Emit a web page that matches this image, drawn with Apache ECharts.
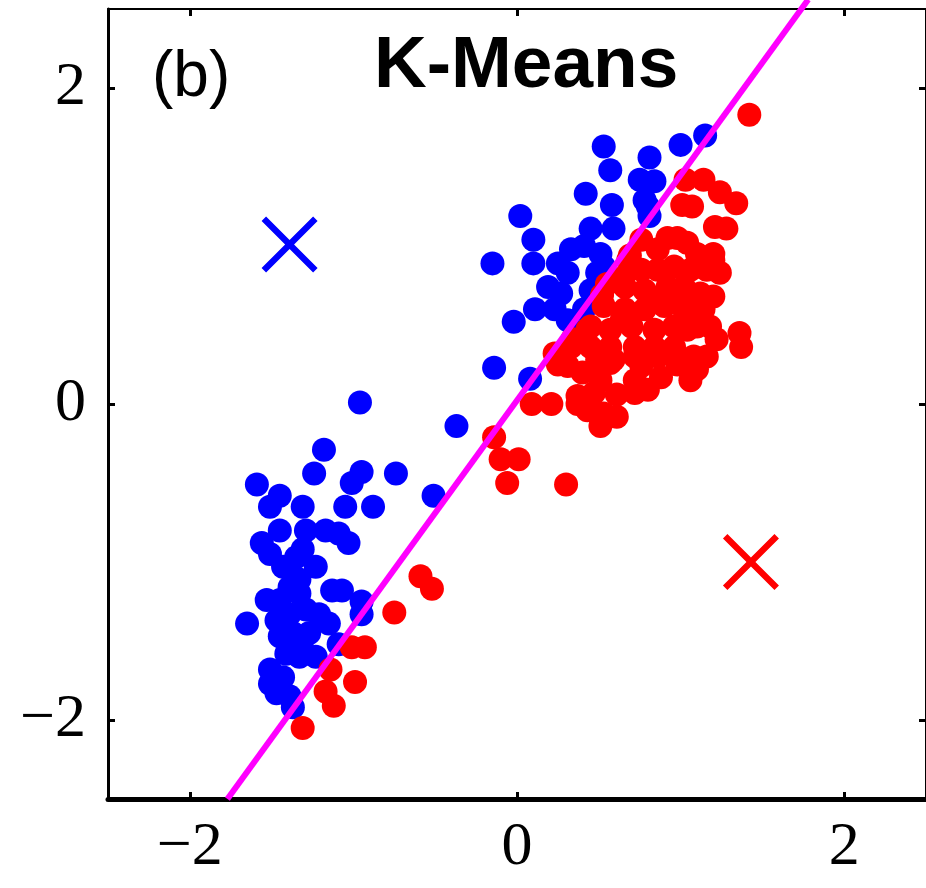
<!DOCTYPE html>
<html>
<head>
<meta charset="utf-8">
<script src="https://cdn.jsdelivr.net/npm/echarts@6/dist/echarts.min.js"></script>
<style>
  html, body { margin: 0; padding: 0; background: #fff; }
  #main { width: 926px; height: 888px; }
</style>
</head>
<body>
<div id="main"></div>
<script>
// cluster 1 (blue) points
const bluePoints = [
  [0.53,1.63],[0.57,1.48],[0.81,1.56],[1.00,1.64],[1.15,1.70],[0.75,1.42],[0.84,1.41],
  [0.42,1.33],[0.58,1.26],[0.78,1.29],[0.80,1.25],[0.81,1.19],[0.02,1.19],[0.10,1.04],
  [0.45,1.11],[0.59,1.11],[0.41,1.00],[-0.15,0.89],[0.10,0.89],[0.33,0.98],[0.25,0.89],
  [0.31,0.83],[0.51,0.95],[0.53,0.87],[0.19,0.74],[0.27,0.70],[0.49,0.83],[0.45,0.72],
  [0.11,0.60],[0.23,0.60],[-0.02,0.52],[0.31,0.53],[0.41,0.60],[-0.14,0.23],[0.08,0.16],
  [-0.37,-0.14],
  [-0.96,0.01],[-1.18,-0.29],[-1.24,-0.44],[-0.95,-0.43],[-1.01,-0.50],[-0.74,-0.44],
  [-1.59,-0.51],[-1.45,-0.58],[-1.51,-0.65],[-1.31,-0.65],[-1.05,-0.65],[-0.88,-0.65],
  [-0.51,-0.58],[-1.45,-0.80],[-1.56,-0.88],[-1.51,-0.95],[-1.43,-1.03],[-1.29,-0.80],
  [-1.17,-0.80],[-1.09,-0.82],[-1.03,-0.88],[-1.31,-0.92],[-1.35,-0.97],[-1.23,-1.03],
  [-1.33,-1.11],[-1.39,-1.16],[-1.33,-1.20],[-1.13,-1.18],[-1.07,-1.18],[-1.53,-1.24],
  [-1.45,-1.24],[-0.95,-1.25],[-0.95,-1.33],[-1.65,-1.39],[-1.47,-1.37],[-1.39,-1.33],
  [-1.29,-1.30],[-1.21,-1.33],[-1.45,-1.47],[-1.37,-1.45],[-1.27,-1.45],[-1.31,-1.49],
  [-1.15,-1.39],[-1.09,-1.52],[-1.41,-1.58],[-1.33,-1.60],[-1.23,-1.60],[-1.51,-1.68],
  [-1.51,-1.77],[-1.43,-1.73],[-1.47,-1.83],[-1.37,-1.92],[-1.39,-1.85]
];

// cluster 2 (red) points
const redPoints = [
  [1.42,1.83],[1.03,1.42],[1.14,1.42],[1.24,1.34],[1.34,1.27],[1.01,1.26],[1.07,1.25],
  [1.21,1.12],[1.28,1.11],[0.76,1.04],[0.92,1.05],[0.98,1.05],[0.86,0.98],[1.10,0.95],
  [1.20,0.95],[1.20,0.91],[1.24,0.83],[0.68,0.91],[0.69,0.94],[1.04,1.02],[0.55,0.76],
  [0.76,0.85],[0.86,0.85],[0.96,0.87],[1.06,0.85],[1.16,0.85],[0.66,0.74],[0.78,0.72],
  [0.92,0.74],[1.02,0.74],[1.12,0.70],[1.20,0.68],[0.53,0.62],[0.66,0.60],[0.78,0.60],
  [0.90,0.62],[1.02,0.60],[1.14,0.60],[0.45,0.49],[0.57,0.47],[0.70,0.49],[0.84,0.47],
  [0.96,0.49],[1.10,0.49],[1.18,0.49],[1.36,0.45],[1.37,0.36],[0.33,0.36],[0.45,0.36],
  [0.57,0.36],[0.72,0.36],[0.84,0.36],[0.96,0.36],[1.08,0.30],[1.16,0.30],[0.31,0.24],
  [0.57,0.26],[0.76,0.24],[0.86,0.30],[0.51,0.15],[0.72,0.15],[0.88,0.17],[1.06,0.15],
  [0.37,0.05],[0.47,0.07],[0.72,0.07],[0.23,0.32],[0.59,0.28],[0.09,0.00],[0.21,0.00],
  [0.37,0.00],[0.43,-0.04],[0.53,-0.06],[0.51,-0.14],
  [0.52,0.69],[0.43,0.47],[0.34,0.41],[0.25,0.25],[0.49,0.28],[0.64,0.53],[1.04,0.47],
  [1.22,0.41],[1.10,0.22],[0.98,0.25],[0.80,0.09],[0.61,0.06],[0.65,0.80],[0.85,0.66],
  [1.00,0.66],[0.72,0.30],[0.40,0.20],[0.61,-0.08],
  [-0.14,-0.21],[-0.10,-0.35],[0.01,-0.35],[-0.06,-0.50],[0.30,-0.51],[-0.59,-1.09],
  [-0.52,-1.17],[-0.75,-1.32],[-1.01,-1.54],[-0.93,-1.54],[-1.14,-1.68],[-0.99,-1.76],
  [-1.17,-1.82],[-1.12,-1.91],[-1.31,-2.05]
];

// k-means centroids
const blueCentroid = [[-1.39, 1.01]];
const redCentroid = [[1.43, -1.00]];

// separating line
const boundary = [[-1.77, -2.5], [1.78, 2.56]];

const tickValues = [-2, 0, 2];

const crossPath = 'path://M0,8L8,0L50,42L92,0L100,8L58,50L100,92L92,100L50,58L8,100L0,92L42,50Z';

const myChart = echarts.init(document.getElementById('main'));

const serif = 'Liberation Serif';
const axisLabelStyle = {
  fontFamily: serif,
  fontSize: 62,
  color: '#000',
  customValues: tickValues,
  formatter: v => (v < 0 ? '\u2212' + Math.abs(v) : String(v))
};
const tickStyle = {
  inside: true,
  length: 7,
  customValues: tickValues,
  lineStyle: { color: '#000', width: 3 }
};

const options = {
  animation: false,
  backgroundColor: '#fff',
  grid: { left: 108, right: -4, top: 9, bottom: 89 },
  xAxis: [{
    type: 'value', min: -2.5, max: 2.5,
    axisLine: { onZero: false, lineStyle: { color: '#000', width: 5 } },
    axisTick: tickStyle,
    axisLabel: { ...axisLabelStyle, margin: 18 },
    splitLine: { show: false }
  }, {
    type: 'value', min: -2.5, max: 2.5, position: 'top',
    axisLine: { onZero: false, lineStyle: { color: '#000', width: 2 } },
    axisTick: tickStyle,
    axisLabel: { show: false },
    splitLine: { show: false }
  }],
  yAxis: [{
    type: 'value', min: -2.5, max: 2.5,
    axisLine: { onZero: false, lineStyle: { color: '#000', width: 3 } },
    axisTick: tickStyle,
    axisLabel: { ...axisLabelStyle, margin: 22 },
    splitLine: { show: false }
  }, {
    type: 'value', min: -2.5, max: 2.5, position: 'right',
    axisLine: { onZero: false, lineStyle: { color: '#000', width: 2 } },
    axisTick: tickStyle,
    axisLabel: { show: false },
    splitLine: { show: false }
  }],
  graphic: [{
    type: 'text', left: 152, top: 46,
    style: { text: '(b)', font: '64px "Liberation Sans"', fill: '#000' }
  }, {
    type: 'text', left: 374, top: 30,
    style: { text: 'K-Means', font: 'bold 73px "Liberation Sans"', fill: '#000' }
  }],
  series: [{
    type: 'scatter', data: bluePoints, symbolSize: 24,
    itemStyle: { color: '#0000ff', opacity: 1 }
  }, {
    type: 'scatter', data: redPoints, symbolSize: 24,
    itemStyle: { color: '#ff0000', opacity: 1 }
  }, {
    type: 'line', data: boundary, symbol: 'none', clip: false,
    lineStyle: { color: '#ff00ff', width: 6 }, z: 5
  }, {
    type: 'scatter', data: blueCentroid, symbol: crossPath, symbolSize: 56,
    itemStyle: { color: '#0000ff', opacity: 1 }, z: 6
  }, {
    type: 'scatter', data: redCentroid, symbol: crossPath, symbolSize: 56,
    itemStyle: { color: '#ff0000', opacity: 1 }, z: 6
  }]
};

myChart.setOption(options);
</script>
</body>
</html>
